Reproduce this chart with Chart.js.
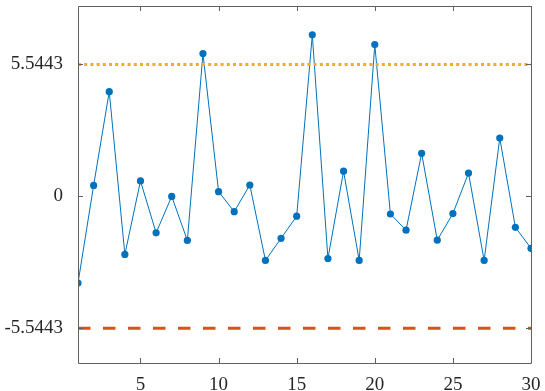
<!DOCTYPE html>
<html>
<head>
<meta charset="utf-8">
<script src="https://cdn.jsdelivr.net/npm/chart.js@4.4.0/dist/chart.umd.min.js"></script>
<style>
  html, body { margin: 0; padding: 0; background: #fff; }
</style>
</head>
<body>
<canvas id="canvas" width="545" height="391"></canvas>
<script>
// sample index and measured values
const xValues = [1, 2, 3, 4, 5, 6, 7, 8, 9, 10, 11, 12, 13, 14, 15,
                 16, 17, 18, 19, 20, 21, 22, 23, 24, 25, 26, 27, 28, 29, 30];
const yValues = [-3.64, 0.46, 4.40, -2.44, 0.65, -1.53, 0.0, -1.85, 6.0, 0.2,
                 -0.64, 0.48, -2.69, -1.76, -0.83, 6.79, -2.61, 1.06, -2.69, 6.38,
                 -0.74, -1.42, 1.81, -1.84, -0.72, 0.98, -2.69, 2.45, -1.30, -2.18];
const upperLimit = 5.5443;
const lowerLimit = -5.5443;
const xTicks = [5, 10, 15, 20, 25, 30];
const yTicks = [-5.5443, 0, 5.5443];

const axisColor = '#606060';
const labelFont = { family: 'Liberation Serif', size: 19 };

// box around the plot with inward ticks on all four sides
const boxTicks = {
  id: 'boxTicks',
  afterDraw(chart) {
    const ctx = chart.ctx;
    const a = chart.chartArea;
    const xs = chart.scales.x, ys = chart.scales.y;
    const len = 5;
    ctx.save();
    ctx.strokeStyle = axisColor;
    ctx.lineWidth = 1;
    ctx.beginPath();
    ctx.rect(a.left + 0.5, a.top + 0.5, a.right - a.left, a.bottom - a.top);
    xs.ticks.forEach(t => {
      const px = Math.round(xs.getPixelForValue(t.value)) + 0.5;
      ctx.moveTo(px, a.bottom); ctx.lineTo(px, a.bottom - len);
      ctx.moveTo(px, a.top); ctx.lineTo(px, a.top + len);
    });
    ys.ticks.forEach(t => {
      const py = Math.round(ys.getPixelForValue(t.value)) + 0.5;
      ctx.moveTo(a.left, py); ctx.lineTo(a.left + len, py);
      ctx.moveTo(a.right, py); ctx.lineTo(a.right - len, py);
    });
    ctx.stroke();
    ctx.restore();
  }
};

function draw() {
  const ctx = document.getElementById('canvas').getContext('2d');
  new Chart(ctx, {
    type: 'line',
    data: {
      datasets: [{
        data: xValues.map((x, i) => ({ x: x, y: yValues[i] })),
        borderColor: '#0072BD',
        backgroundColor: '#0072BD',
        borderWidth: 1,
        pointRadius: 3.6,
        pointBorderWidth: 0,
        tension: 0,
        order: 2
      }, {
        data: [{ x: xValues[0], y: upperLimit }, { x: xValues[xValues.length - 1], y: upperLimit }],
        borderColor: '#EDB120',
        borderWidth: 3,
        borderDash: [3, 3.2],
        pointRadius: 0,
        order: 1
      }, {
        data: [{ x: xValues[0], y: lowerLimit }, { x: xValues[xValues.length - 1], y: lowerLimit }],
        borderColor: '#D95319',
        borderWidth: 3,
        borderDash: [12.5, 12.5],
        pointRadius: 0,
        order: 1
      }]
    },
    options: {
      responsive: false,
      animation: false,
      devicePixelRatio: 1,
      layout: { padding: { top: 6, right: 14, left: 0, bottom: 0 } },
      plugins: { legend: { display: false }, tooltip: { enabled: false } },
      scales: {
        x: {
          type: 'linear',
          min: 1,
          max: 30,
          afterBuildTicks: s => { s.ticks = xTicks.map(v => ({ value: v })); },
          afterFit: s => { s.height = 28; s.paddingLeft = 0; s.paddingRight = 0; },
          grid: { display: false },
          border: { display: false },
          ticks: { font: labelFont, color: '#262626', padding: 3, maxRotation: 0, autoSkip: false,
                   callback: v => String(v) }
        },
        y: {
          type: 'linear',
          min: -7,
          max: 8,
          afterBuildTicks: s => { s.ticks = yTicks.map(v => ({ value: v })); },
          afterFit: s => { s.width = 78; s.paddingTop = 0; s.paddingBottom = 0; },
          grid: { display: false },
          border: { display: false },
          ticks: { font: labelFont, color: '#262626', padding: 7, autoSkip: false,
                   callback: v => String(v) }
        }
      }
    },
    plugins: [boxTicks]
  });
}

draw();
</script>
</body>
</html>
